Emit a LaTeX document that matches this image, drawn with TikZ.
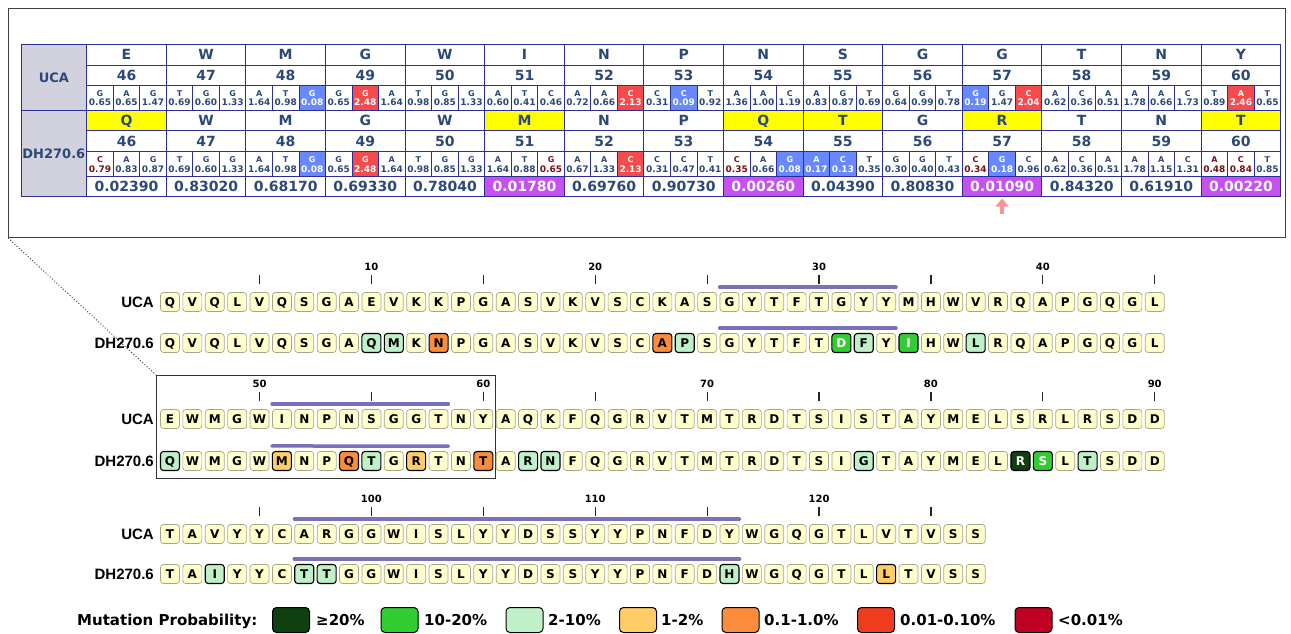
\documentclass[tikz,border=0pt]{standalone}
\usepackage{fontspec}
\setmainfont{DejaVu Sans}
\newfontfamily\labfont{Liberation Sans}
\usetikzlibrary{arrows.meta}
\definecolor{navyline}{RGB}{45,45,150}
\definecolor{tabtext}{RGB}{44,72,120}
\definecolor{graycol}{RGB}{210,210,222}
\definecolor{hiyel}{RGB}{255,255,0}
\definecolor{hipur}{RGB}{200,80,240}
\definecolor{cellblue}{RGB}{104,136,255}
\definecolor{cellred}{RGB}{245,75,75}
\definecolor{darkred}{RGB}{120,16,16}
\definecolor{boxfill}{RGB}{255,255,204}
\definecolor{boxline}{RGB}{165,165,140}
\definecolor{mA}{RGB}{16,64,16}
\definecolor{mB}{RGB}{50,205,50}
\definecolor{mC}{RGB}{192,240,200}
\definecolor{mD}{RGB}{255,204,102}
\definecolor{mE}{RGB}{250,140,60}
\definecolor{mF}{RGB}{240,60,30}
\definecolor{mG}{RGB}{190,0,35}
\definecolor{barcol}{RGB}{120,112,185}
\definecolor{arrowpink}{RGB}{245,150,150}
\begin{document}
\begin{tikzpicture}[x=1pt,y=-1pt,
  tabline/.style={draw=navyline, line width=0.9pt},
  aatxt/.style={font=\bfseries\fontsize{14}{14}\selectfont, text=tabtext, inner sep=0pt, text height=10.2pt, text depth=0pt},
  numtxt/.style={font=\bfseries\fontsize{14}{14}\selectfont, text=tabtext, inner sep=0pt, text height=10.2pt, text depth=0pt},
  codl/.style={font=\bfseries\fontsize{8}{8}\selectfont, inner sep=0pt, text height=5.8pt, text depth=0pt},
  codv/.style={font=\bfseries\fontsize{9}{9}\selectfont, inner sep=0pt, text height=6.6pt, text depth=0pt},
  codN/.style={text=tabtext},
  codB/.style={fill=cellblue, text=white},
  codR/.style={fill=cellred, text=white},
  codD/.style={text=darkred},
  lbltab/.style={font=\bfseries\fontsize{13}{13}\selectfont, text=tabtext, inner sep=0pt, text height=9.5pt, text depth=0pt},
  res/.style={draw=boxline, fill=boxfill, line width=0.7pt, rounded corners=3pt, minimum width=19pt, minimum height=19pt, inner sep=0pt, font=\bfseries\fontsize{12}{12}\selectfont, text=black, text height=8.75pt, text depth=0pt},
  rN/.style={},
  rA/.style={fill=mA, draw=black, line width=1.1pt, text=white},
  rB/.style={fill=mB, draw=black, line width=1.1pt, text=white},
  rC/.style={fill=mC, draw=black, line width=1.1pt},
  rD/.style={fill=mD, draw=black, line width=1.1pt},
  rE/.style={fill=mE, draw=black, line width=1.1pt},
  seqlab/.style={font=\labfont\bfseries\fontsize{15}{15}\selectfont, inner sep=0pt, text height=10.7pt, text depth=0pt, anchor=east},
  ticklab/.style={font=\bfseries\fontsize{10}{10}\selectfont, inner sep=0pt, text height=7.3pt, text depth=0pt},
  tickln/.style={line width=1.2pt, black!85},
  cdrbar/.style={barcol, line width=3.5pt, line cap=round},
  sw/.style={draw=black, line width=1pt, rounded corners=4pt, minimum width=37pt, minimum height=25pt, inner sep=0pt},
  leglab/.style={font=\bfseries\fontsize{15}{15}\selectfont, inner sep=0pt, anchor=base west}
]
\path[fill=white, use as bounding box] (0,0) rectangle (1291,634);

% ---------- top panel ----------
\node[draw=black!75, line width=1pt, minimum width=1277pt, minimum height=229pt, inner sep=0pt, anchor=north west] (panel) at (8,8) {};

\fill[graycol] (21,44.7) rectangle (86.7,196.7);
\node[lbltab] (tabuca) at (53.85,77.7) {UCA};
\node[lbltab] (tabdh) at (53.85,153.7) {DH270.6};

\foreach \ua/\da/\dyel/\sc/\spur [count=\k from 0] in {
  E/Q/1/0.02390/0, W/W/0/0.83020/0, M/M/0/0.68170/0, G/G/0/0.69330/0, W/W/0/0.78040/0,
  I/M/1/0.01780/1, N/N/0/0.69760/0, P/P/0/0.90730/0, N/Q/1/0.00260/1, S/T/1/0.04390/0,
  G/G/0/0.80830/0, G/R/1/0.01090/1, T/T/0/0.84320/0, N/N/0/0.61910/0, Y/T/1/0.00220/1}
{
  \pgfmathsetmacro\xl{86.7+\k*79.6}
  \pgfmathsetmacro\xr{\xl+79.6}
  \pgfmathsetmacro\xc{\xl+39.8}
  \pgfmathtruncatemacro\num{46+\k}
  \ifnum\dyel=1 \fill[hiyel] (\xl,110.7) rectangle (\xr,130.7); \fi
  \ifnum\spur=1 \fill[hipur] (\xl,176) rectangle (\xr,196.7); \def\sccol{white}\else\def\sccol{tabtext}\fi
  \node[aatxt] (ua\k) at (\xc,54.85) {\ua};
  \node[numtxt] (un\k) at (\xc,75.35) {\num};
  \node[aatxt] (da\k) at (\xc,120.7) {\da};
  \node[numtxt] (dn\k) at (\xc,141.2) {\num};
  \node[numtxt, text=\sccol] (sc\k) at (\xc,186.35) {\sc};
}

\foreach \l/\v/\s [count=\j from 0] in {
  G/0.65/N, A/0.65/N, G/1.47/N, T/0.69/N, G/0.60/N, G/1.33/N, A/1.64/N, T/0.98/N, G/0.08/B,
  G/0.65/N, G/2.48/R, A/1.64/N, T/0.98/N, G/0.85/N, G/1.33/N, A/0.60/N, T/0.41/N, C/0.46/N,
  A/0.72/N, A/0.66/N, C/2.13/R, C/0.31/N, C/0.09/B, T/0.92/N, A/1.36/N, A/1.00/N, C/1.19/N,
  A/0.83/N, G/0.87/N, T/0.69/N, G/0.64/N, G/0.99/N, T/0.78/N, G/0.19/B, G/1.47/N, C/2.04/R,
  A/0.62/N, C/0.36/N, A/0.51/N, A/1.78/N, A/0.66/N, C/1.73/N, T/0.89/N, A/2.46/R, T/0.65/N}
{
  \pgfmathsetmacro\xl{86.7+\j*26.5333}
  \pgfmathsetmacro\xc{\xl+13.2667}
  \path[cod\s] (\xl,85.7) rectangle ++(26.5333,25);
  \node[codl, cod\s] (ucl\j) at (\xc,93.2) {\l};
  \node[codv, cod\s] (ucv\j) at (\xc,102.7) {\v};
}
\foreach \l/\v/\s [count=\j from 0] in {
  C/0.79/D, A/0.83/N, G/0.87/N, T/0.69/N, G/0.60/N, G/1.33/N, A/1.64/N, T/0.98/N, G/0.08/B,
  G/0.65/N, G/2.48/R, A/1.64/N, T/0.98/N, G/0.85/N, G/1.33/N, A/1.64/N, T/0.88/N, G/0.65/D,
  A/0.67/N, A/1.33/N, C/2.13/R, C/0.31/N, C/0.47/N, T/0.41/N, C/0.35/D, A/0.66/N, G/0.08/B,
  A/0.17/B, C/0.13/B, T/0.35/N, G/0.30/N, G/0.40/N, T/0.43/N, C/0.34/D, G/0.18/B, C/0.96/N,
  A/0.62/N, C/0.36/N, A/0.51/N, A/1.78/N, A/1.15/N, C/1.31/N, A/0.48/D, C/0.84/D, T/0.85/N}
{
  \pgfmathsetmacro\xl{86.7+\j*26.5333}
  \pgfmathsetmacro\xc{\xl+13.2667}
  \path[cod\s] (\xl,151.7) rectangle ++(26.5333,24.3);
  \node[codl, cod\s] (dcl\j) at (\xc,159.2) {\l};
  \node[codv, cod\s] (dcv\j) at (\xc,168.7) {\v};
}

% grid
\foreach \yy in {44.7,110.7,196.7} \draw[tabline] (21,\yy) -- (1280.7,\yy);
\foreach \yy in {65,85.7,130.7,151.7,176} \draw[tabline] (86.7,\yy) -- (1280.7,\yy);
\draw[tabline] (21,44.7) -- (21,196.7);
\foreach \k in {0,...,15} \draw[tabline] (86.7+\k*79.6,44.7) -- (86.7+\k*79.6,196.7);
\foreach \j in {1,2,4,5,7,8,10,11,13,14,16,17,19,20,22,23,25,26,28,29,31,32,34,35,37,38,40,41,43,44} {
  \draw[tabline] (86.7+\j*26.5333,85.7) -- (86.7+\j*26.5333,110.7);
  \draw[tabline] (86.7+\j*26.5333,151.7) -- (86.7+\j*26.5333,176);
}

\coordinate (arrtip) at (1002.1,198.5);
\coordinate (arrbase) at (1002.1,213.5);
\draw[arrowpink, line width=4pt, -{Triangle[width=13pt,length=8pt]}] (arrbase) -- (arrtip);

% ---------- inset + dotted link ----------
\node[draw=black!80, line width=1.1pt, minimum width=339pt, minimum height=103pt, inner sep=0pt, anchor=north west] (inset) at (156,375) {};
\draw[dotted, line width=1pt, black!70] (panel.south west) -- (inset.north west);

% ---------- row 1 ----------
\node[seqlab] (l1u) at (154,302) {UCA};
\node[seqlab] (l1d) at (154,343) {DH270.6};
\foreach \a [count=\i from 0] in {Q,V,Q,L,V,Q,S,G,A,E,V,K,K,P,G,A,S,V,K,V,S,C,K,A,S,G,Y,T,F,T,G,Y,Y,M,H,W,V,R,Q,A,P,G,Q,G,L}
  \node[res,rN] (r1u\i) at (170+\i*22.38,302) {\a};
\foreach \a/\s [count=\i from 0] in {Q/N,V/N,Q/N,L/N,V/N,Q/N,S/N,G/N,A/N,Q/C,M/C,K/N,N/E,P/N,G/N,A/N,S/N,V/N,K/N,V/N,S/N,C/N,A/E,P/C,S/N,G/N,Y/N,T/N,F/N,T/N,D/B,F/C,Y/N,I/B,H/N,W/N,L/C,R/N,Q/N,A/N,P/N,G/N,Q/N,G/N,L/N}
  \node[res,r\s] (r1d\i) at (170+\i*22.38,343) {\a};
\foreach \i in {4,9,...,44} \draw[tickln] ([yshift=8pt]r1u\i.north) -- ([yshift=17pt]r1u\i.north);
\foreach \i/\t in {9/10,19/20,29/30,39/40} \node[ticklab] (t1n\i) at ([yshift=25pt]r1u\i.north) {\t};
\draw[cdrbar] ([yshift=5pt]r1u25.north west) -- ([yshift=5pt]r1u32.north east);
\draw[cdrbar] ([yshift=5pt]r1d25.north west) -- ([yshift=5pt]r1d32.north east);

% ---------- row 2 ----------
\node[seqlab] (l2u) at (154,419) {UCA};
\node[seqlab] (l2d) at (154,461) {DH270.6};
\foreach \a [count=\i from 0] in {E,W,M,G,W,I,N,P,N,S,G,G,T,N,Y,A,Q,K,F,Q,G,R,V,T,M,T,R,D,T,S,I,S,T,A,Y,M,E,L,S,R,L,R,S,D,D}
  \node[res,rN] (r2u\i) at (170+\i*22.38,419) {\a};
\foreach \a/\s [count=\i from 0] in {Q/C,W/N,M/N,G/N,W/N,M/D,N/N,P/N,Q/E,T/C,G/N,R/D,T/N,N/N,T/E,A/N,R/C,N/C,F/N,Q/N,G/N,R/N,V/N,T/N,M/N,T/N,R/N,D/N,T/N,S/N,I/N,G/C,T/N,A/N,Y/N,M/N,E/N,L/N,R/A,S/B,L/N,T/C,S/N,D/N,D/N}
  \node[res,r\s] (r2d\i) at (170+\i*22.38,461) {\a};
\foreach \i in {4,9,...,44} \draw[tickln] ([yshift=8pt]r2u\i.north) -- ([yshift=17pt]r2u\i.north);
\foreach \i/\t in {4/50,14/60,24/70,34/80,44/90} \node[ticklab] (t2n\i) at ([yshift=25pt]r2u\i.north) {\t};
\draw[cdrbar] ([yshift=5pt]r2u5.north west) -- ([yshift=5pt]r2u12.north east);
\draw[cdrbar] ([yshift=5pt]r2d5.north west) -- ([yshift=5pt]r2d12.north east);

% ---------- row 3 ----------
\node[seqlab] (l3u) at (154,534) {UCA};
\node[seqlab] (l3d) at (154,574) {DH270.6};
\foreach \a [count=\i from 0] in {T,A,V,Y,Y,C,A,R,G,G,W,I,S,L,Y,Y,D,S,S,Y,Y,P,N,F,D,Y,W,G,Q,G,T,L,V,T,V,S,S}
  \node[res,rN] (r3u\i) at (170+\i*22.38,534) {\a};
\foreach \a/\s [count=\i from 0] in {T/N,A/N,I/C,Y/N,Y/N,C/N,T/C,T/C,G/N,G/N,W/N,I/N,S/N,L/N,Y/N,Y/N,D/N,S/N,S/N,Y/N,Y/N,P/N,N/N,F/N,D/N,H/C,W/N,G/N,Q/N,G/N,T/N,L/N,L/D,T/N,V/N,S/N,S/N}
  \node[res,r\s] (r3d\i) at (170+\i*22.38,574) {\a};
\foreach \i in {4,9,...,34} \draw[tickln] ([yshift=8pt]r3u\i.north) -- ([yshift=17pt]r3u\i.north);
\foreach \i/\t in {9/100,19/110,29/120} \node[ticklab] (t3n\i) at ([yshift=25pt]r3u\i.north) {\t};
\draw[cdrbar] ([yshift=5pt]r3u6.north west) -- ([yshift=5pt]r3u25.north east);
\draw[cdrbar] ([yshift=5pt]r3d6.north west) -- ([yshift=5pt]r3d25.north east);

% ---------- legend ----------
\node[leglab] (legt) at (77,625.5) {Mutation Probability:};
\node[sw, fill=mA] (sw1) at (291,620) {};
\node[leglab] (lg1) at (316,625.5) {≥20\%};
\node[sw, fill=mB] (sw2) at (399.5,620) {};
\node[leglab] (lg2) at (424,625.5) {10-20\%};
\node[sw, fill=mC] (sw3) at (524.5,620) {};
\node[leglab] (lg3) at (548,625.5) {2-10\%};
\node[sw, fill=mD] (sw4) at (638,620) {};
\node[leglab] (lg4) at (661,625.5) {1-2\%};
\node[sw, fill=mE] (sw5) at (740.5,620) {};
\node[leglab] (lg5) at (764,625.5) {0.1-1.0\%};
\node[sw, fill=mF] (sw6) at (876,620) {};
\node[leglab] (lg6) at (900,625.5) {0.01-0.10\%};
\node[sw, fill=mG] (sw7) at (1033.5,620) {};
\node[leglab] (lg7) at (1058,625.5) {<0.01\%};
\end{tikzpicture}
\end{document}
